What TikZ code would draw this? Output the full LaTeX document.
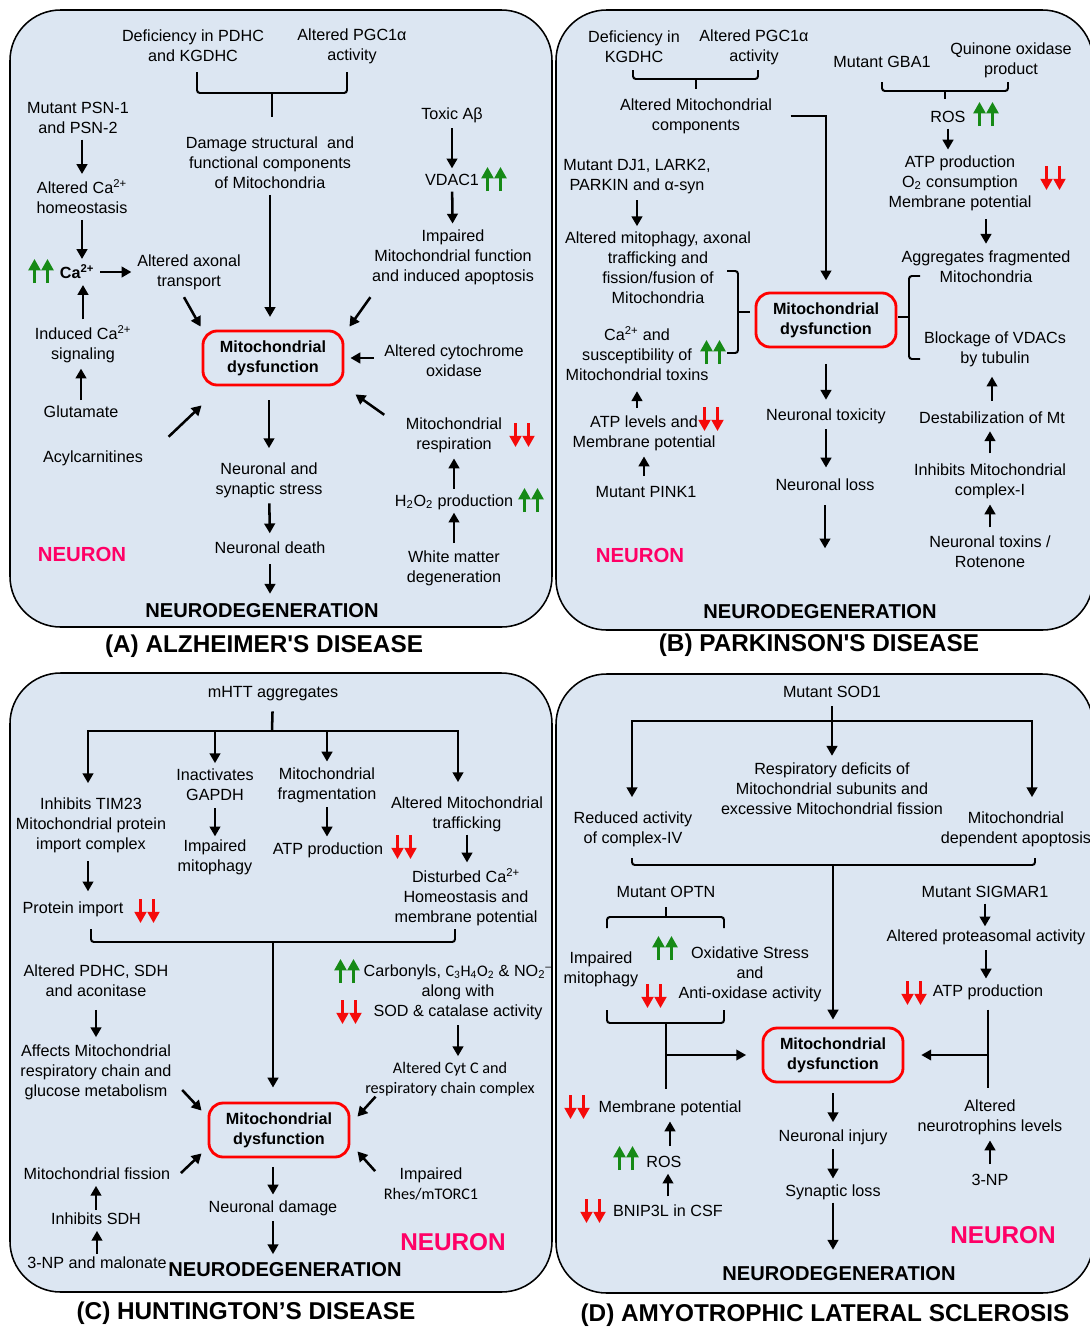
\documentclass[tikz,border=0pt]{standalone}
\usepackage{fontspec}
\setmainfont{Liberation Sans}
\newfontfamily\calfont{Carlito}
\usetikzlibrary{arrows.meta,calc,positioning}

\definecolor{panelblue}{RGB}{220,230,242}
\definecolor{upgreen}{RGB}{22,138,22}
\definecolor{dnred}{RGB}{245,10,10}
\definecolor{neuronpink}{RGB}{255,0,102}
\newcommand{\txtsize}{\fontsize{11.5}{14.2}\selectfont}
\newcommand{\caion}{Ca\textsuperscript{2+}}

\tikzset{
  tipA/.tip={Triangle[length=7pt,width=7.5pt]},
  txt/.style={align=center, inner sep=1pt, font=\txtsize},
  mito/.style={draw=red, line width=2pt, rounded corners=10pt, align=center,
    font=\bfseries\txtsize, minimum width=99.6pt, minimum height=38.4pt, inner sep=0pt},
  arr/.style={-tipA, line width=1.8pt, shorten <=3pt, shorten >=3pt},
  darr/.style={-tipA, line width=1.8pt},
  brk/.style={line width=1.4pt, rounded corners=2pt},
  panel/.style={draw, line width=1.1pt, fill=panelblue, rounded corners=36pt},
  ttl/.style={font=\bfseries\fontsize{17.3}{20}\selectfont, inner sep=0pt},
  ndeg/.style={font=\bfseries\fontsize{14.3}{17}\selectfont, inner sep=0pt},
  neuron/.style={text=neuronpink, font=\bfseries\fontsize{14.5}{17}\selectfont, inner sep=0pt},
  bigneuron/.style={neuron, font=\bfseries\fontsize{17.3}{20}\selectfont},
  pics/upup/.style={code={
    \foreach \dx in {-6.5,6.5}
      \draw[-{Triangle[length=8pt,width=8.5pt]}, line width=1.6pt, upgreen] (\dx,12) -- (\dx,-12);}},
  pics/dndn/.style={code={
    \foreach \dx in {-6.5,6.5}
      \draw[-{Triangle[length=8pt,width=8.5pt]}, line width=1.6pt, dnred] (\dx,-12) -- (\dx,12);}},
}

\begin{document}
\begin{tikzpicture}[x=0.025cm,y=-0.025cm]
\useasboundingbox (0,0) rectangle (1090,1329);

\draw[panel] (10,10) rectangle (552,627);
\node[txt] (adef) at (193,46) {Deficiency in PDHC\\and KGDHC};
\node[txt] (apgc) at (352,46) {Altered PGC1α\\activity};
\node[txt] (adam) at (270,163) {Damage structural\ \ and\\functional components\\of Mitochondria};
\coordinate (abr) at (272,93);
\draw[brk] (197,72) |- (abr) -| (347,72);
\draw[brk] (abr) -- (272,117);
\node[txt] (apsn) at (78,118) {Mutant PSN-1\\and PSN-2};
\node[txt] (aalt) at (82,197) {Altered \caion\\homeostasis};
\node[txt, font=\bfseries\txtsize] (aca) at (77,272) {\caion};
\pic at (41,271) {upup};
\node[txt] (aaxo) at (189,272) {Altered axonal\\transport};
\node[txt] (aind) at (83,344) {Induced \caion\\signaling};
\node[txt] (aglu) at (81,412) {Glutamate};
\node[txt] (aacy) at (93,458) {Acylcarnitines};
\node[txt] (atox) at (452,115) {Toxic Aβ};
\node[txt] (avdac) at (452,180) {VDAC1};
\pic at (494,179) {upup};
\node[txt] (aimp) at (453,257) {Impaired\\Mitochondrial function\\and induced apoptosis};
\node[mito] (amito) at (273,358) {Mitochondrial\\dysfunction};
\node[txt] (acyt) at (454,361) {Altered cytochrome\\oxidase};
\node[txt] (aresp) at (454,435) {Mitochondrial\\respiration};
\pic at (522,435) {dndn};
\node[txt] (ah2o) at (454,502) {H\textsubscript{2}O\textsubscript{2} production};
\pic at (531,500) {upup};
\node[txt] (awm) at (454,568) {White matter\\degeneration};
\node[txt] (astr) at (269,480) {Neuronal and\\synaptic stress};
\node[txt] (adth) at (270,548) {Neuronal death};
\node[ndeg] (andg) at (262,611) {NEURODEGENERATION};
\node[neuron] (anrn) at (82,554) {NEURON};
\node[ttl] (attl) at (264,646) {(A) ALZHEIMER\textquotesingle S DISEASE};

\draw[arr] (apsn.south -| aalt) -- (aalt);
\draw[arr] (aalt) -- (aalt |- aca.north);
\draw[arr] (aca) -- (aca -| aaxo.west);
\draw[arr] (aind) -- (aind |- aca.south);
\draw[arr] (aglu) -- (aglu |- aind.south);
\draw[arr] (atox) -- (avdac);
\draw[arr] (avdac) -- (aimp);
\draw[arr, shorten >=9pt] (adam) -- (adam |- amito.north);
\draw[arr, shorten <=10pt, shorten >=9pt] (amito.south -| astr) -- (astr);
\draw[arr, shorten >=5pt] (astr) -- (adth);
\draw[arr, shorten <=6pt, shorten >=7pt] (adth.south) -- (adth.south |- andg.north);
\draw[arr, shorten <=4pt, shorten >=1pt] (awm) -- (ah2o);
\draw[arr] (ah2o) -- (aresp);
\draw[darr] ($(aaxo.south)+(-5,6)$) -- ($(amito.north west)+(-1,-3)$);
\draw[darr] ($(aimp.south west)+(0,11)$) -- ($(amito.north east)+(5,-3)$);
\draw[darr] ($(acyt.west)+(-9,-3)$) -- ($(amito.east)+(6,0)$);
\draw[darr] ($(aresp.north west)+(-20,-1)$) -- ($(amito.south east)+(11,8)$);
\draw[darr] ($(aacy.north east)+(24,-12)$) -- ($(amito.south west)+(0,19)$);

\draw[panel] (556,10) rectangle (1093,630);
\node[txt] (bdef) at (634,47) {Deficiency in\\KGDHC};
\node[txt] (bpgc) at (754,47) {Altered PGC1α\\activity};
\coordinate (bbr) at (696,79);
\draw[brk] (633,70) |- (bbr) -| (758,70);
\draw[brk] (bbr) -- (696,89);
\node[txt] (bcmp) at (696,116) {Altered Mitochondrial\\components};
\node[txt] (bdj) at (637,177) {Mutant DJ1, LARK2,\\PARKIN and α-syn};
\node[txt] (bmph) at (658,268) {Altered mitophagy, axonal\\trafficking and\\fission/fusion of\\Mitochondria};
\node[txt] (bca) at (637,354) {\caion{} and\\susceptibility of\\Mitochondrial toxins};
\pic at (713,352) {upup};
\node[txt] (batp) at (644,433) {ATP levels and\\Membrane potential};
\pic at (711,419) {dndn};
\node[txt] (bpnk) at (646,492) {Mutant PINK1};
\node[neuron] (bnrn) at (640,555) {NEURON};
\node[mito] (bmito) at (826,320) {Mitochondrial\\dysfunction};
\node[txt] (btox) at (826,416) {Neuronal toxicity};
\node[txt] (blos) at (825,485) {Neuronal loss};
\node[ndeg] (bndg) at (820,612) {NEURODEGENERATION};
\node[txt] (bgba) at (882,62) {Mutant GBA1};
\node[txt] (bqui) at (1011,60) {Quinone oxidase\\product};
\coordinate (bbq) at (945,91);
\draw[brk] (882,82) |- (bbq) -| (1008,82);
\draw[brk] (bbq) -- (945,99);
\node[txt] (bros) at (948,117) {ROS};
\pic at (986,114) {upup};
\node[txt] (batc) at (960,183) {ATP production\\O\textsubscript{2} consumption\\Membrane potential};
\pic at (1053,178) {dndn};
\node[txt] (bagg) at (986,267) {Aggregates fragmented\\Mitochondria};
\node[txt] (bblk) at (995,349) {Blockage of VDACs\\by tubulin};
\node[txt] (bdst) at (992,418) {Destabilization of Mt};
\node[txt] (binh) at (990,481) {Inhibits Mitochondrial\\complex-I};
\node[txt] (bntx) at (990,552) {Neuronal toxins /\\Rotenone};
\node[ttl] (bttl) at (819,645) {(B) PARKINSON\textquotesingle S DISEASE};

\draw[brk] (727,271) -| (738,353) -- (727,353);
\draw[brk] (738,312) -- (750,312);
\draw[brk] (920,276) -| (909,359) -- (920,359);
\draw[brk] (898,317) -- (909,317);
\draw[arr, shorten <=12pt, shorten >=8pt] (bcmp.east) -| (bmito.north);
\draw[arr] (bdj.south) -- (bdj.south |- bmph.north);
\draw[arr, shorten <=4pt, shorten >=6pt] (bca.south |- batp.north) -- (bca.south);
\draw[arr, shorten <=6pt] (batp.south |- bpnk.north) -- (batp.south);
\draw[arr, shorten <=11pt, shorten >=5pt] (bmito) -- (btox);
\draw[arr, shorten >=7pt] (btox) -- (btox |- blos.north);
\draw[arr, shorten <=9pt, shorten >=40pt] (blos) -- (blos |- bndg.north);
\draw[arr] (bros) -- (bros |- batc.north);
\draw[arr, shorten <=5pt, shorten >=4pt] (bagg.north |- batc.south) -- (bagg.north);
\draw[arr, shorten <=7pt, shorten >=6pt] (bdst) -- (bdst |- bblk.south);
\draw[arr, shorten <=6pt, shorten >=4pt] (binh) -- (binh |- bdst.south);
\draw[arr, shorten <=5pt] (bntx) -- (bntx |- binh.south);

\draw[panel] (10,673) rectangle (552,1292);
\node[txt] (cmht) at (273,694) {mHTT aggregates};
\coordinate (cbar) at (272,731);
\coordinate (cbl) at (88,731);
\coordinate (cbr) at (458,731);
\node[txt] (ctim) at (91,825) {Inhibits TIM23\\Mitochondrial protein\\import complex};
\node[txt] (cgap) at (215,785) {Inactivates\\GAPDH};
\node[txt] (cfrg) at (327,785) {Mitochondrial\\fragmentation};
\node[txt] (ctrf) at (467,814) {Altered Mitochondrial\\trafficking};
\node[txt] (cmph) at (215,857) {Impaired\\mitophagy};
\node[txt] (catp) at (328,850) {ATP production};
\pic at (404,847) {dndn};
\node[txt] (cdst) at (466,897) {Disturbed \caion\\Homeostasis and\\membrane potential};
\node[txt] (cprt) at (73,909) {Protein import};
\pic at (147,911) {dndn};
\coordinate (cbk) at (273,942);
\draw[brk] (91,929) |- (cbk) -| (455,929);
\node[txt] (cpdh) at (96,981) {Altered PDHC, SDH\\and aconitase};
\node[txt] (caff) at (96,1072) {Affects Mitochondrial\\respiratory chain and\\glucose metabolism};
\node[txt] (ccrb) at (458,992) {Carbonyls, {\calfont C\textsubscript{3}H\textsubscript{4}O\textsubscript{2}} \& NO\textsubscript{2}\textsuperscript{–}\\along with\\SOD \& catalase activity};
\pic at (347,971) {upup};
\pic at (349,1012) {dndn};
\node[txt, font=\calfont\txtsize] (ccyt) at (450,1079) {Altered Cyt C and\\respiratory chain complex};
\node[txt] (crhs) at (431,1184) {Impaired\\{\calfont Rhes/mTORC1}};
\node[mito] (cmito) at (279,1130) {Mitochondrial\\dysfunction};
\node[txt] (cfis) at (97,1174) {Mitochondrial fission};
\node[txt] (csdh) at (96,1219) {Inhibits SDH};
\node[txt] (c3np) at (97,1263) {3-NP and malonate};
\node[txt] (cdmg) at (273,1208) {Neuronal damage};
\node[ndeg] (cndg) at (285,1270) {NEURODEGENERATION};
\node[bigneuron] (cnrn) at (453,1242) {NEURON};
\node[ttl] (cttl) at (246,1313) {(C) HUNTINGTON’S DISEASE};

\draw[line width=1.8pt, shorten <=6pt] (cmht) -- (cbar);
\draw[tipA-tipA, line width=1.8pt, shorten <=9pt, shorten >=9pt] (cbl |- ctim.north) -- (cbl) -- (cbr) -- (cbr |- ctrf.north);
\draw[arr, shorten <=0pt] (cbar -| cgap) -- (cgap.north);
\draw[arr, shorten <=0pt] (cbar -| cfrg) -- (cfrg.north);
\draw[arr, shorten <=0pt, shorten >=10pt] (cbk) -- (cbk |- cmito.north);
\draw[arr, shorten <=5pt, shorten >=6pt] (cbl |- ctim.south) -- (cbl |- cprt.north);
\draw[arr, shorten <=4pt, shorten >=1pt] (cgap) -- (cmph);
\draw[arr, shorten <=2pt] (cfrg) -- (cfrg |- catp.north);
\draw[arr, shorten <=1pt] (ctrf) -- (ctrf |- cdst.north);
\draw[arr, shorten <=8pt, shorten >=4pt] (cpdh) -- (caff);
\draw[arr] (ccrb) -- (ccrb |- ccyt.north);
\draw[darr] ($(caff.east)+(9,18)$) -- ($(cmito.north west)+(-6,9)$);
\draw[darr] ($(ccyt.south west)+(12,-1)$) -- ($(cmito.north east)+(7,15)$);
\draw[darr] ($(crhs.north west)+(-7,5)$) -- ($(cmito.south east)+(7,-7)$);
\draw[darr] ($(cfis.east)+(9,-1)$) -- ($(cmito.south west)+(-6,-5)$);
\draw[arr, shorten <=1pt] (csdh) -- (csdh |- cfis.south);
\draw[arr, shorten <=1pt] (c3np) -- (c3np |- csdh.south);
\draw[arr, shorten <=6pt] (cmito.south -| cdmg) -- (cdmg);
\draw[arr, shorten >=6pt] (cdmg) -- (cdmg |- cndg.north);

\draw[panel] (556,674) rectangle (1093,1293);
\node[txt] (dsod) at (832,692) {Mutant SOD1};
\coordinate (dbl) at (632,721);
\coordinate (dbr) at (1032,721);
\node[txt] (drsp) at (832,789) {Respiratory deficits of\\Mitochondrial subunits and\\excessive Mitochondrial fission};
\node[txt] (dred) at (633,829) {Reduced activity\\of complex-IV};
\node[txt] (dapo) at (1016,829) {Mitochondrial\\dependent apoptosis};
\coordinate (dbk) at (833,865);
\draw[brk] (632,858) |- (dbk) -| (1035,858);
\node[txt] (dopt) at (666,892) {Mutant OPTN};
\coordinate (dob) at (666,917);
\draw[brk] (607,928) |- (dob) -| (724,928);
\draw[brk] (666,907) -- (dob);
\node[txt] (dimp) at (601,969) {Impaired\\mitophagy};
\node[txt] (doxi) at (750,974) {Oxidative Stress\\and\\Anti-oxidase activity};
\pic at (665,948) {upup};
\pic at (654,996) {dndn};
\coordinate (dlb) at (666,1023);
\draw[brk] (607,1010) |- (dlb) -| (724,1010);
\node[mito] (dmito) at (833,1055) {Mitochondrial\\dysfunction};
\node[txt] (dmem) at (670,1108) {Membrane potential};
\pic at (577,1107) {dndn};
\node[txt] (dros) at (664,1162) {ROS};
\pic at (626,1158) {upup};
\node[txt] (dbnp) at (668,1211) {BNIP3L in CSF};
\pic at (593,1211) {dndn};
\node[txt] (dsig) at (985,892) {Mutant SIGMAR1};
\node[txt] (dprt) at (986,937) {Altered proteasomal activity};
\node[txt] (datp) at (988,992) {ATP production};
\pic at (914,993) {dndn};
\node[txt] (dneu) at (990,1117) {Altered\\neurotrophins levels};
\node[txt] (d3np) at (990,1180) {3-NP};
\node[txt] (dinj) at (833,1137) {Neuronal injury};
\node[txt] (dsyn) at (833,1192) {Synaptic loss};
\node[bigneuron] (dnrn) at (1003,1235) {NEURON};
\node[ndeg] (dndg) at (839,1274) {NEURODEGENERATION};
\node[ttl] (dttl) at (825,1315) {(D) AMYOTROPHIC LATERAL SCLEROSIS};

\draw[arr, shorten <=5pt, shorten >=4pt] (dsod) -- (dsod |- drsp.north);
\draw[tipA-tipA, line width=1.8pt, shorten <=9pt, shorten >=9pt] (dbl |- dred.north) -- (dbl) -- (dbr) -- (dbr |- dapo.north);
\draw[arr, shorten <=0pt, shorten >=5pt] (dbk) -- (dbk |- dmito.north);
\draw[line width=1.4pt, shorten >=7pt] (dlb) -- (dlb |- dmem.north);
\draw[arr, line width=1.4pt, shorten <=0pt, shorten >=11pt] (dlb |- dmito) -- (dmito.west);
\draw[arr, shorten <=6pt] (dros.north -| dmem) -- (dmem);
\draw[arr, shorten <=5pt] (dbnp.north) -- (dbnp.north |- dros.south);
\draw[arr, shorten >=1pt] (dsig) -- (dsig |- dprt.north);
\draw[arr] (dprt) -- (dprt |- datp.north);
\draw[line width=1.4pt, shorten <=6pt, shorten >=7pt] (datp.south) -- (datp.south |- dneu.north);
\draw[arr, line width=1.4pt, shorten <=0pt, shorten >=12pt] (datp.south |- dmito) -- (dmito.east);
\draw[arr, shorten <=6pt] (d3np) -- (dneu);
\draw[arr, shorten <=7pt, shorten >=4pt] (dmito) -- (dinj);
\draw[arr, shorten <=2pt] (dinj) -- (dsyn);
\draw[arr, shorten <=1pt, shorten >=12pt] (dsyn) -- (dsyn |- dndg.north);

\end{tikzpicture}
\end{document}
